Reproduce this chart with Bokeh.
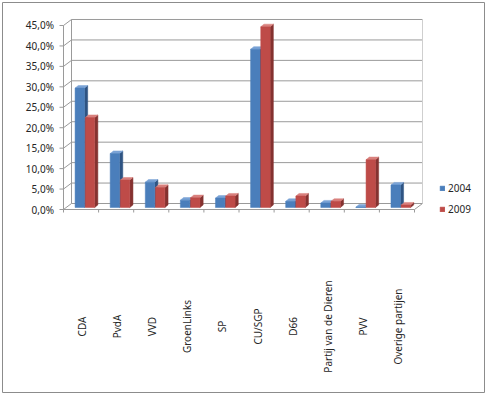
import numpy as np
from bokeh.plotting import figure
from bokeh.models import Range1d, ColumnDataSource, Legend, LegendItem
from bokeh.core.properties import value
from bokeh.embed import file_html
from bokeh.resources import INLINE

# ---- data ----
parties = ["CDA", "PvdA", "VVD", "GroenLinks", "SP", "CU/SGP", "D66",
           "Partij van de Dieren", "PVV", "Overige partijen"]
v2004 = [29.2, 13.2, 6.2, 1.8, 2.3, 38.7, 1.5, 1.1, 0.1, 5.5]
v2009 = [22.0, 6.7, 4.9, 2.4, 2.8, 44.2, 2.8, 1.5, 11.7, 0.6]
series_names = ["2004", "2009"]
y_ticks = [0, 5, 10, 15, 20, 25, 30, 35, 40, 45]
y_tick_labels = ["0,0%", "5,0%", "10,0%", "15,0%", "20,0%", "25,0%",
                 "30,0%", "35,0%", "40,0%", "45,0%"]

# ---- geometry (pixel scale of the projection) ----
PX_CAT = 35.1      # pixels per category on the front plane
PX_PCT = 4.089     # pixels per percent
X0, Y0 = 63, 209   # pixel position of the front origin
FL, FT, FW, FH = 2, 2, 482, 390  # frame
n = len(parties)

x_start = (FL - X0) / PX_CAT
x_end = (FL + FW - X0) / PX_CAT
y_end = (Y0 - FT) / PX_PCT
y_start = (Y0 - (FT + FH)) / PX_PCT

p = figure(width=486, height=395, output_backend="svg", toolbar_location=None,
           x_range=Range1d(x_start, x_end), y_range=Range1d(y_start, y_end),
           min_border_left=FL, min_border_top=FT, min_border_right=486 - FL - FW,
           min_border_bottom=395 - FT - FH, frame_width=FW, frame_height=FH,
           x_axis_location=None, y_axis_location=None)
p.grid.visible = False
p.outline_line_color = "#8c8c8c"
p.outline_line_width = 1
p.background_fill_color = "white"
p.border_fill_color = "white"

# wall depth offsets in data units
WDX = 8 / PX_CAT
WDY = 6 / PX_PCT
ymax = y_ticks[-1]

grid_col = "#9a9a9a"
FONT = "Noto Sans"
TXT = "#262626"
FS = "10px"

# back wall gridlines
p.segment(x0=[WDX] * len(y_ticks), y0=[t + WDY for t in y_ticks],
          x1=[n + WDX] * len(y_ticks), y1=[t + WDY for t in y_ticks],
          line_color=grid_col, line_width=1)
# left wall diagonals and ticks
p.segment(x0=[0] * len(y_ticks), y0=y_ticks,
          x1=[WDX] * len(y_ticks), y1=[t + WDY for t in y_ticks],
          line_color=grid_col, line_width=1)
p.segment(x0=[-4 / PX_CAT] * len(y_ticks), y0=y_ticks,
          x1=[0] * len(y_ticks), y1=y_ticks, line_color=grid_col, line_width=1)
# front vertical axis and back-left edge
p.segment(x0=[0, WDX], y0=[0, WDY], x1=[0, WDX], y1=[ymax, ymax + WDY],
          line_color=grid_col, line_width=1)
# floor: front edge, right edge, ticks
p.segment(x0=[0, n], y0=[0, 0], x1=[n, n + WDX], y1=[0, WDY],
          line_color=grid_col, line_width=1)
p.segment(x0=list(range(n + 1)), y0=[0] * (n + 1),
          x1=list(range(n + 1)), y1=[-3 / PX_PCT] * (n + 1),
          line_color=grid_col, line_width=1)
p.segment(x0=[n + WDX], y0=[WDY], x1=[n + WDX], y1=[ymax + WDY],
          line_color="#cfcfcf", line_width=1)

# ---- 3D-ish bars ----
BW = 9.4 / PX_CAT          # bar front width
BSX = 2.5 / PX_CAT         # bar set-back
BSY = 2.0 / PX_PCT
BDX = 3.2 / PX_CAT         # bar depth
BDY = 2.6 / PX_PCT
offsets = [0.33 - BSX, 0.62 - BSX]
fronts = ["#4a7ebb", "#be4b48"]
sides = ["#2f5483", "#843230"]
tops = ["#7aa3d6", "#d9807d"]
renderers = []
for k, vals in enumerate([v2004, v2009]):
    left = [i + offsets[k] + BSX for i in range(n)]
    right = [l + BW for l in left]
    base = [BSY] * n
    top = [v + BSY for v in vals]
    # top faces
    xs_t = [[l, l + BDX, r + BDX, r] for l, r in zip(left, right)]
    ys_t = [[t, t + BDY, t + BDY, t] for t in top]
    # side faces
    xs_s = [[r, r + BDX, r + BDX, r] for r in right]
    ys_s = [[b, b + BDY, t + BDY, t] for b, t in zip(base, top)]
    p.patches(xs_s, ys_s, fill_color=sides[k], line_color=sides[k], line_width=0.5)
    p.patches(xs_t, ys_t, fill_color=tops[k], line_color=tops[k], line_width=0.5)
    src = ColumnDataSource(dict(x=[(l + r) / 2 for l, r in zip(left, right)],
                                bottom=base, top=top))
    r_ = p.vbar(x="x", width=BW, bottom="bottom", top="top", source=src,
                fill_color=fronts[k], line_color=fronts[k], line_width=0.5)
    renderers.append(r_)

# ---- y tick labels ----
p.text(x=[-9.5 / PX_CAT] * len(y_ticks), y=y_ticks, text=y_tick_labels,
       text_align="right", text_baseline="middle", text_font=value(FONT),
       text_font_size=FS, text_color=TXT)

# ---- category labels (vertical) ----
p.text(x=[i + 0.5 + 1 / PX_CAT for i in range(n)],
       y=[(Y0 - 326) / PX_PCT] * n, text=parties, angle=np.pi / 2,
       text_align="center", text_baseline="middle", text_font=value(FONT),
       text_font_size=FS, text_color=TXT)

# ---- legend ----
legend = Legend(items=[LegendItem(label=series_names[k], renderers=[renderers[k]])
                       for k in range(2)],
                location=(437, 176), glyph_width=6, glyph_height=6,
                label_height=15, spacing=6, padding=0, margin=0,
                label_standoff=3, border_line_color=None,
                background_fill_alpha=0, label_text_font=FONT,
                label_text_font_size=FS, label_text_color=TXT)
p.add_layout(legend)

open("out.html", "w").write(file_html(p, INLINE))
